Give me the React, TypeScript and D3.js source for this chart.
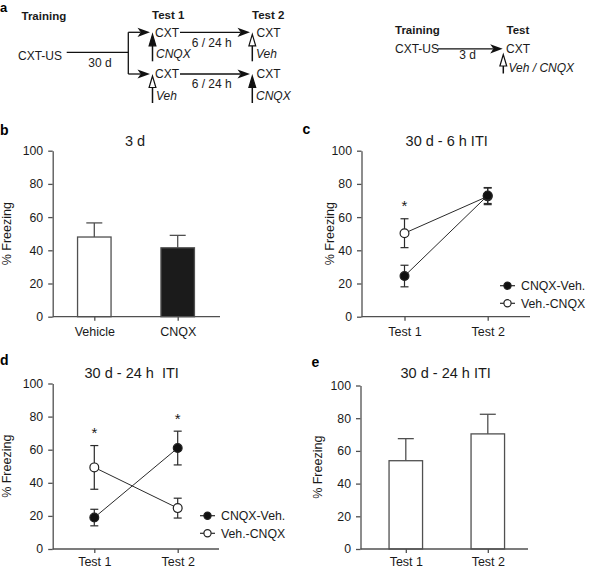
import React, { useEffect, useRef } from "react";
import * as d3 from "d3";

// ---------- data ----------
const yTicks = [0, 20, 40, 60, 80, 100];
const barCatsB = ["Vehicle", "CNQX"];
const barMeansB = [48, 41.5];
const barSemB = [8.5, 7.5];
const barFillsB = ["#ffffff", "#1b1b1b"];

const testCats = ["Test 1", "Test 2"];
const legendLabels = ["CNQX-Veh.", "Veh.-CNQX"];

const cCnqxVehMean = [24.5, 73];
const cCnqxVehSem = [6.5, 4.8];
const cVehCnqxMean = [50.3, 72.5];
const cVehCnqxSem = [8.7, 5];
const cStarCats = ["Test 1"];
const cStarVals = [69];

const dCnqxVehMean = [19, 61];
const dCnqxVehSem = [5, 10.2];
const dVehCnqxMean = [49.3, 24.7];
const dVehCnqxSem = [13.2, 6];
const dStarCats = ["Test 1", "Test 2"];
const dStarVals = [72.3, 80.4];

const eMeans = [54, 70.4];
const eSem = [13.5, 12];

// ---------- style ----------
const FONT = "'Liberation Sans', Arial, Helvetica, sans-serif";
const AXIS = "#505050";
const TEXT = "#1a1a1a";
const MARK = "#2a2a2a";

type Frame = { axisX: number; axisEnd: number; yTop: number; yBottom: number; p0: number; p1: number; pad: number };

const frameB: Frame = { axisX: 52.7, axisEnd: 220, yTop: 150.7, yBottom: 316.7, p0: 94.3, p1: 177.7, pad: 6.5 };
const frameC: Frame = { axisX: 361.5, axisEnd: 530, yTop: 150.7, yBottom: 316.7, p0: 404.5, p1: 487.7, pad: 6.5 };
const frameD: Frame = { axisX: 52.7, axisEnd: 219, yTop: 383.5, yBottom: 549, p0: 94.3, p1: 177.7, pad: 4 };
const frameE: Frame = { axisX: 360.5, axisEnd: 528, yTop: 385.5, yBottom: 549, p0: 405.8, p1: 487.8, pad: 4 };

function makeY(f: Frame) {
  return d3.scaleLinear().domain([0, 100]).range([f.yBottom, f.yTop]);
}
function makeX(f: Frame, cats: string[]) {
  return d3.scalePoint<string>().domain(cats).range([f.p0, f.p1]);
}

function styleAxis(g: any, fontSize: number) {
  g.attr("font-family", FONT).attr("font-size", fontSize);
  g.selectAll("text").attr("fill", TEXT);
  g.selectAll(".tick line").attr("stroke", AXIS).attr("stroke-width", 1.3);
  g.select(".domain").attr("stroke", AXIS).attr("stroke-width", 1.3);
}

function YAxis({ f }: { f: Frame }) {
  const ref = useRef<SVGGElement>(null);
  useEffect(() => {
    const g = d3.select(ref.current);
    g.call(
      d3.axisLeft(makeY(f)).tickValues(yTicks).tickSize(4.5).tickSizeOuter(0).tickPadding(5).tickFormat(d3.format("d")) as any
    );
    styleAxis(g, 12.3);
  }, [f]);
  return <g ref={ref} transform={`translate(${f.axisX},0)`} />;
}

function XAxis({ f, cats }: { f: Frame; cats: string[] }) {
  const ref = useRef<SVGGElement>(null);
  useEffect(() => {
    const g = d3.select(ref.current);
    g.call(d3.axisBottom(makeX(f, cats)).tickSize(4).tickPadding(f.pad) as any);
    g.select(".domain").remove();
    styleAxis(g, 12.5);
  }, [f, cats]);
  return (
    <g>
      <line x1={f.axisX} x2={f.axisEnd} y1={f.yBottom} y2={f.yBottom} stroke={AXIS} strokeWidth={1.3} />
      <g ref={ref} transform={`translate(0,${f.yBottom})`} />
    </g>
  );
}

function YLabel({ x, f }: { x: number; f: Frame }) {
  const yc = (f.yTop + f.yBottom) / 2;
  return (
    <text transform={`translate(${x},${yc}) rotate(-90)`} textAnchor="middle" fontSize={12.5} fill={TEXT}>
      % Freezing
    </text>
  );
}

function Title({ x, y, text }: { x: number; y: number; text: string }) {
  return (
    <text x={x} y={y} textAnchor="middle" fontSize={14.5} fill={TEXT} style={{ whiteSpace: "pre" }}>
      {text}
    </text>
  );
}

function Letter({ x, y, t }: { x: number; y: number; t: string }) {
  return (
    <text x={x} y={y} fontSize={14} fontWeight="bold" fill="#000">
      {t}
    </text>
  );
}

function BarPanel({ f, cats, means, sem, fills }: { f: Frame; cats: string[]; means: number[]; sem: number[]; fills: string[] }) {
  const x = makeX(f, cats);
  const y = makeY(f);
  const bw = 33.5;
  const cap = 16;
  return (
    <g>
      {cats.map((c, i) => {
        const cx = x(c)!;
        const top = y(means[i]);
        const et = y(means[i] + sem[i]);
        return (
          <g key={c}>
            <line x1={cx} x2={cx} y1={top} y2={et} stroke={AXIS} strokeWidth={1.3} />
            <line x1={cx - cap / 2} x2={cx + cap / 2} y1={et} y2={et} stroke={AXIS} strokeWidth={1.3} />
            <rect x={cx - bw / 2} y={top} width={bw} height={f.yBottom - top} fill={fills[i]} stroke={AXIS} strokeWidth={1.3} />
          </g>
        );
      })}
      <YAxis f={f} />
      <XAxis f={f} cats={cats} />
    </g>
  );
}

type Series = { mean: number[]; sem: number[]; filled: boolean };

function LinePanel({
  f, cats, series, starCats, starVals, legendX, legendY,
}: {
  f: Frame; cats: string[]; series: Series[]; starCats: string[]; starVals: number[]; legendX: number; legendY: number;
}) {
  const x = makeX(f, cats);
  const y = makeY(f);
  const line = d3.line<number>().x((_, i) => x(cats[i])!).y((v) => y(v));
  const cap = 8;
  const r = 4.4;
  return (
    <g>
      <YAxis f={f} />
      <XAxis f={f} cats={cats} />
      {series.map((s, k) => (
        <path key={"l" + k} d={line(s.mean)!} fill="none" stroke={MARK} strokeWidth={1} />
      ))}
      {series.map((s, k) =>
        s.mean.map((m, i) => {
          const cx = x(cats[i])!;
          const hi = y(m + s.sem[i]);
          const lo = y(m - s.sem[i]);
          return (
            <g key={"e" + k + i} stroke={MARK} strokeWidth={1.2}>
              <line x1={cx} x2={cx} y1={hi} y2={lo} />
              <line x1={cx - cap / 2} x2={cx + cap / 2} y1={hi} y2={hi} />
              <line x1={cx - cap / 2} x2={cx + cap / 2} y1={lo} y2={lo} />
            </g>
          );
        })
      )}
      {series.map((s, k) =>
        s.mean.map((m, i) => (
          <circle key={"c" + k + i} cx={x(cats[i])!} cy={y(m)} r={r} fill={s.filled ? "#111" : "#fff"} stroke="#222" strokeWidth={1.2} />
        ))
      )}
      {starCats.map((c, i) => (
        <text key={"s" + i} x={x(c)!} y={y(starVals[i])} dy="0.57em" textAnchor="middle" fontSize={15} fill={TEXT}>
          *
        </text>
      ))}
      {legendLabels.map((lab, i) => {
        const ly = legendY + i * 17.6;
        return (
          <g key={lab}>
            <line x1={legendX} x2={legendX + 15} y1={ly} y2={ly} stroke={MARK} strokeWidth={1.2} />
            <circle cx={legendX + 7.5} cy={ly} r={3.6} fill={i === 0 ? "#111" : "#fff"} stroke="#222" strokeWidth={1.2} />
            <text x={legendX + 21} y={ly + 4.4} fontSize={12.3} fill={TEXT}>
              {lab}
            </text>
          </g>
        );
      })}
    </g>
  );
}

// ---------- protocol diagram ----------
function HArrow({ x1, x2, y }: { x1: number; x2: number; y: number }) {
  const L = 12.5, w = 4.6, n = 3.2;
  return (
    <g>
      <line x1={x1} x2={x2 - L + n} y1={y} y2={y} stroke="#111" strokeWidth={1.3} />
      <path d={`M${x2},${y}L${x2 - L},${y - w}L${x2 - L + n},${y}L${x2 - L},${y + w}Z`} fill="#111" />
    </g>
  );
}

function VArrow({ x, tip, bottom, filled }: { x: number; tip: number; bottom: number; filled: boolean }) {
  const L = 11.5, w = 3.4;
  return (
    <g>
      <line x1={x} x2={x} y1={tip + (filled ? 4 : L)} y2={bottom} stroke="#111" strokeWidth={1.5} />
      <path
        d={`M${x},${tip}L${x - w},${tip + L}L${x + w},${tip + L}Z`}
        fill={filled ? "#111" : "#fff"}
        stroke="#111"
        strokeWidth={1.2}
        strokeLinejoin="miter"
      />
    </g>
  );
}

function Diagram() {
  const rowY = [32.3, 74];
  const drugs = [
    [true, false],
    [false, true],
  ];
  const drugNames = [
    ["CNQX", "Veh"],
    ["Veh", "CNQX"],
  ];
  return (
    <g fill={TEXT}>
      <text x={0} y={12} fontSize={13} fontWeight="bold" fill="#000">a</text>
      <text x={21.5} y={20} fontSize={11.5} fontWeight="bold">Training</text>
      <text x={152} y={19} fontSize={11.5} fontWeight="bold">Test 1</text>
      <text x={252} y={19} fontSize={11.5} fontWeight="bold">Test 2</text>
      <text x={18} y={60} fontSize={12}>CXT-US</text>
      <line x1={66.7} x2={128.3} y1={52.3} y2={52.3} stroke="#111" strokeWidth={1.3} />
      <text x={100} y={67} fontSize={12} textAnchor="middle">30 d</text>
      <line x1={128.3} x2={128.3} y1={rowY[0]} y2={rowY[1]} stroke="#111" strokeWidth={1.3} />
      {rowY.map((ry, r) => (
        <g key={r}>
          <HArrow x1={128.3} x2={150} y={ry} />
          <text x={155} y={ry + 4.3} fontSize={12}>CXT</text>
          <HArrow x1={180} x2={250} y={ry} />
          <text x={211.7} y={ry + 14.4} fontSize={12} textAnchor="middle">6 / 24 h</text>
          <text x={256.5} y={ry + 4.3} fontSize={12}>CXT</text>
          <VArrow x={152.5} tip={ry + 2} bottom={ry + 29} filled={drugs[r][0]} />
          <VArrow x={252.3} tip={ry + 2} bottom={ry + 29} filled={drugs[r][1]} />
          <text x={156} y={ry + 26} fontSize={12} fontStyle="italic">{drugNames[r][0]}</text>
          <text x={256} y={ry + 26} fontSize={12} fontStyle="italic">{drugNames[r][1]}</text>
        </g>
      ))}
      <text x={395} y={34} fontSize={11.5} fontWeight="bold">Training</text>
      <text x={506.5} y={34} fontSize={11.5} fontWeight="bold">Test</text>
      <text x={395} y={53.3} fontSize={12}>CXT-US</text>
      <HArrow x1={438} x2={502.7} y={48.8} />
      <text x={467.5} y={58.5} fontSize={12} textAnchor="middle">3 d</text>
      <text x={506} y={53.3} fontSize={12}>CXT</text>
      <VArrow x={503.3} tip={54.5} bottom={73.5} filled={false} />
      <text x={508.5} y={71.7} fontSize={12} fontStyle="italic">Veh / CNQX</text>
    </g>
  );
}

export default function App() {
  const seriesC: Series[] = [
    { mean: cVehCnqxMean, sem: cVehCnqxSem, filled: false },
    { mean: cCnqxVehMean, sem: cCnqxVehSem, filled: true },
  ];
  const seriesD: Series[] = [
    { mean: dVehCnqxMean, sem: dVehCnqxSem, filled: false },
    { mean: dCnqxVehMean, sem: dCnqxVehSem, filled: true },
  ];
  return (
    <svg
      width={589}
      height={570}
      viewBox="0 0 589 570"
      style={{ position: "absolute", left: 0, top: 0, background: "#fff" }}
      fontFamily={FONT}
    >
      <rect x={0} y={0} width={589} height={570} fill="#fff" />
      <Diagram />

      <Letter x={0} y={134.5} t="b" />
      <Title x={135} y={146} text="3 d" />
      <YLabel x={11} f={frameB} />
      <BarPanel f={frameB} cats={barCatsB} means={barMeansB} sem={barSemB} fills={barFillsB} />

      <Letter x={302.5} y={134} t="c" />
      <Title x={446.7} y={146} text="30 d - 6 h ITI" />
      <YLabel x={334} f={frameC} />
      <LinePanel f={frameC} cats={testCats} series={seriesC} starCats={cStarCats} starVals={cStarVals} legendX={500} legendY={285.7} />

      <Letter x={0} y={365} t="d" />
      <Title x={131.7} y={378.3} text="30 d - 24 h  ITI" />
      <YLabel x={11} f={frameD} />
      <LinePanel f={frameD} cats={testCats} series={seriesD} starCats={dStarCats} starVals={dStarVals} legendX={200} legendY={515.7} />

      <Letter x={311.5} y={366.5} t="e" />
      <Title x={445.7} y={378.3} text="30 d - 24 h ITI" />
      <YLabel x={321.5} f={frameE} />
      <BarPanel f={frameE} cats={testCats} means={eMeans} sem={eSem} fills={["#fff", "#fff"]} />
    </svg>
  );
}
